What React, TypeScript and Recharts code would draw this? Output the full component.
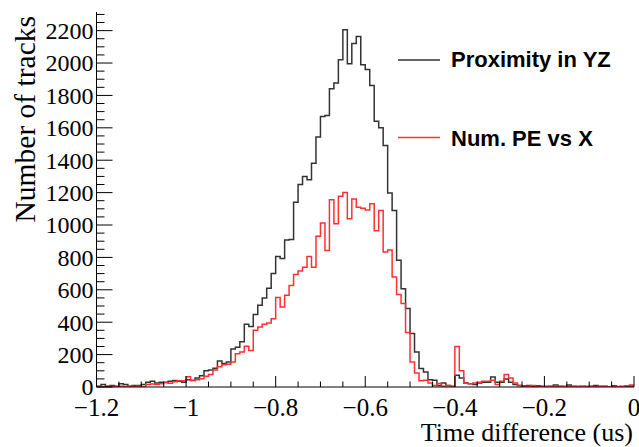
import React from 'react';
import { ComposedChart, Line, XAxis, YAxis, Legend } from 'recharts';

// Histogram binning (120 bins of 0.01 us from -1.2 to 0)
const X_MIN = -1.2;
const BIN_WIDTH = 0.01;

const seriesNames = ['Proximity in YZ', 'Num. PE vs X'];

const proximityCounts = [
  5, 15, 5, 10, 5, 20, 15, 5, 10, 10,
  15, 30, 35, 25, 30, 30, 35, 40, 35, 30,
  45, 40, 55, 70, 100, 105, 115, 160, 145, 155,
  234, 245, 280, 387, 374, 448, 504, 550, 610, 700,
  806, 794, 907, 910, 1141, 1250, 1300, 1280, 1382, 1543,
  1670, 1676, 1841, 1876, 2020, 2205, 1995, 2121, 2163, 1989,
  1960, 1862, 1641, 1600, 1491, 1197, 1090, 782, 607, 484,
  330, 216, 114, 93, 45, 41, 10, 25, 10, 5,
  72, 56, 25, 20, 15, 25, 30, 30, 62, 30,
  30, 50, 30, 15, 10, 8, 10, 5, 8, 4,
  3, 5, 12, 4, 3, 12, 5, 3, 4, 2,
  5, 10, 3, 4, 2, 8, 3, 2, 4, 6,
];

const numPECounts = [
  3, 2, 4, 3, 2, 5, 3, 4, 3, 5,
  2, 15, 18, 15, 20, 27, 23, 33, 38, 38,
  64, 41, 45, 51, 66, 77, 105, 125, 137, 140,
  154, 206, 216, 251, 226, 350, 370, 387, 395, 422,
  552, 494, 566, 627, 695, 716, 740, 806, 740, 930,
  1012, 843, 1156, 1008, 1177, 1200, 1039, 1160, 1110, 1104,
  1092, 1132, 965, 1090, 833, 845, 679, 571, 515, 337,
  154, 86, 39, 41, 25, 10, 21, 4, 10, 2,
  250, 100, 25, 20, 25, 30, 35, 35, 41, 15,
  35, 77, 55, 25, 10, 5, 5, 10, 3, 2,
  3, 2, 4, 2, 3, 5, 2, 3, 2, 4,
  3, 2, 5, 3, 2, 3, 2, 5, 8, 12,
];

const xMajorTicks = [-1.2, -1, -0.8, -0.6, -0.4, -0.2, 0];
const xMajorLabels = ['\u22121.2', '\u22121', '\u22120.8', '\u22120.6', '\u22120.4', '\u22120.2', '0'];
const yMajorTicks = [0, 200, 400, 600, 800, 1000, 1200, 1400, 1600, 1800, 2000, 2200];
const yMajorLabels = ['0', '200', '400', '600', '800', '1000', '1200', '1400', '1600', '1800', '2000', '2200'];

const X_DOMAIN: [number, number] = [-1.2, 0];
const Y_DOMAIN: [number, number] = [0, 2315];

// minor tick positions (axis decoration)
const xTicks: number[] = [];
for (let i = 0; i <= 24; i++) xTicks.push(Number((X_DOMAIN[0] + i * 0.05).toFixed(2)));
const yTicks: number[] = [];
for (let v = 0; v <= 2300; v += 50) yTicks.push(v);

const N = proximityCounts.length;
const data: { x: number; prox: number; pe: number }[] = [];
for (let i = 0; i <= N; i++) {
  const k = Math.min(i, N - 1);
  data.push({ x: Number((X_MIN + i * BIN_WIDTH).toFixed(2)), prox: proximityCounts[k], pe: numPECounts[k] });
}

const SERIF = '"Liberation Serif", "Times New Roman", serif';
const SANS = '"Liberation Sans", Arial, sans-serif';
const AXIS = '#000';

const xMajorIndex = (v: number) => xMajorTicks.findIndex((t) => Math.abs(t - v) < 1e-6);
const yMajorIndex = (v: number) => yMajorTicks.indexOf(v);

const BottomTick = (p: any) => {
  const { x, y, payload } = p;
  const mi = xMajorIndex(payload.value);
  const len = mi >= 0 ? 11 : 5.5;
  return (
    <g>
      <line x1={x} x2={x} y1={y} y2={y - len} stroke={AXIS} strokeWidth={1} />
      {mi >= 0 && (
        <text x={x} y={y + 29} textAnchor="middle" fontFamily={SERIF} fontSize={25} fill="#000">
          {xMajorLabels[mi]}
        </text>
      )}
    </g>
  );
};

const TopTick = (p: any) => {
  const { x, y, payload } = p;
  const mi = xMajorIndex(payload.value);
  const len = mi >= 0 ? 11 : 5.5;
  return <line x1={x} x2={x} y1={y} y2={y + len} stroke={AXIS} strokeWidth={1} />;
};

const LeftTick = (p: any) => {
  const { x, y, payload } = p;
  const mi = yMajorIndex(payload.value);
  const len = mi >= 0 ? 16 : 8;
  return (
    <g>
      <line x1={x} x2={x + len} y1={y} y2={y} stroke={AXIS} strokeWidth={1} />
      {mi >= 0 && (
        <text x={x - 3} y={y} dy="0.35em" textAnchor="end" fontFamily={SERIF} fontSize={24} fill="#000">
          {yMajorLabels[mi]}
        </text>
      )}
    </g>
  );
};

const RightTick = (p: any) => {
  const { x, y, payload } = p;
  const mi = yMajorIndex(payload.value);
  const len = mi >= 0 ? 16 : 8;
  return <line x1={x} x2={x - len} y1={y} y2={y} stroke={AXIS} strokeWidth={1} />;
};

const XTitle = (p: any) => {
  const vb = p.viewBox || { x: 0, y: 0, width: 0, height: 0 };
  return (
    <text x={vb.x + vb.width - 1} y={vb.y + 54} textAnchor="end" fontFamily={SERIF} fontSize={26} fill="#000">
      Time difference (us)
    </text>
  );
};

const YTitle = (p: any) => {
  const vb = p.viewBox || { x: 0, y: 0, width: 0, height: 0 };
  const px = vb.x + 35;
  const py = vb.y + 4;
  return (
    <text x={px} y={py} transform={`rotate(-90 ${px} ${py})`} textAnchor="end" fontFamily={SERIF} fontSize={29.5} fill="#000">
      Number of tracks
    </text>
  );
};

const LegendContent = (props: any) => {
  const payload = [...(props.payload || [])].sort(
    (a: any, b: any) => seriesNames.indexOf(a.value) - seriesNames.indexOf(b.value)
  );
  return (
    <svg width={235} height={120} style={{ display: 'block' }}>
      {payload.map((entry: any, i: number) => (
        <g key={i}>
          <line x1={0} x2={42} y1={20 + i * 77.5} y2={20 + i * 77.5} stroke={entry.color} strokeWidth={1.5} />
          <text x={53} y={27 + i * 78.5} fontFamily={SANS} fontWeight="bold" fontSize={22} fill="#000">
            {entry.value}
          </text>
        </g>
      ))}
    </svg>
  );
};

export default function App() {
  return (
    <div style={{ position: 'absolute', left: 0, top: 0, background: '#fff' }}>
      <ComposedChart width={639} height={447} data={data} margin={{ top: 12, right: 5, bottom: 0, left: 0 }}>
        <XAxis
          xAxisId="b"
          dataKey="x"
          type="number"
          domain={X_DOMAIN}
          ticks={xTicks}
          interval={0}
          allowDataOverflow
          height={60}
          tickSize={0}
          tickMargin={0}
          tickLine={false}
          axisLine={{ stroke: AXIS, strokeWidth: 1 }}
          tick={<BottomTick />}
          label={<XTitle />}
        />
        <XAxis
          xAxisId="t"
          orientation="top"
          dataKey="x"
          type="number"
          domain={X_DOMAIN}
          ticks={xTicks}
          interval={0}
          allowDataOverflow
          height={0}
          tickSize={0}
          tickMargin={0}
          tickLine={false}
          axisLine={{ stroke: AXIS, strokeWidth: 1 }}
          tick={<TopTick />}
        />
        <YAxis
          yAxisId="l"
          type="number"
          domain={Y_DOMAIN}
          ticks={yTicks}
          interval={0}
          allowDataOverflow
          width={96.5}
          tickSize={0}
          tickMargin={0}
          tickLine={false}
          axisLine={{ stroke: AXIS, strokeWidth: 1 }}
          tick={<LeftTick />}
          label={<YTitle />}
        />
        <YAxis
          yAxisId="r"
          orientation="right"
          type="number"
          domain={Y_DOMAIN}
          ticks={yTicks}
          interval={0}
          allowDataOverflow
          width={0}
          tickSize={0}
          tickMargin={0}
          tickLine={false}
          axisLine={{ stroke: AXIS, strokeWidth: 1 }}
          tick={<RightTick />}
        />
        <Legend
          layout="vertical"
          align="center"
          verticalAlign="middle"
          wrapperStyle={{ position: 'absolute', left: 398, top: 40, width: 235, height: 120 }}
          content={<LegendContent />}
        />
        <Line
          xAxisId="b"
          yAxisId="l"
          dataKey="prox"
          name={seriesNames[0]}
          type="stepAfter"
          stroke="#333333"
          strokeWidth={1.5}
          dot={false}
          activeDot={false}
          isAnimationActive={false}
        />
        <Line
          xAxisId="b"
          yAxisId="l"
          dataKey="pe"
          name={seriesNames[1]}
          type="stepAfter"
          stroke="#ff3030"
          strokeWidth={1.5}
          dot={false}
          activeDot={false}
          isAnimationActive={false}
        />
      </ComposedChart>
    </div>
  );
}
